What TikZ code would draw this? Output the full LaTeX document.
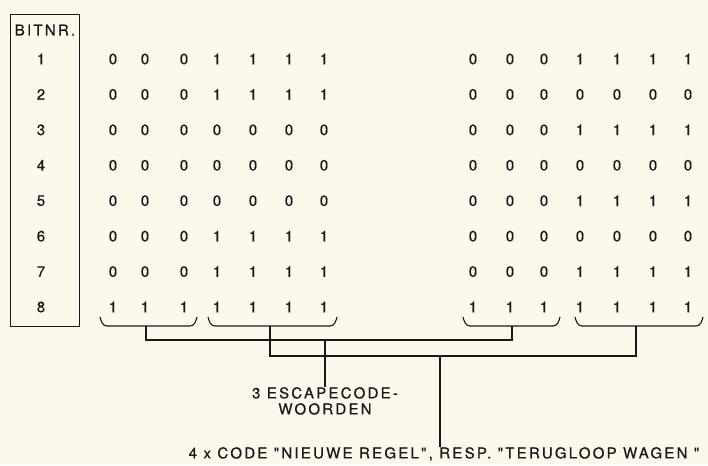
\documentclass[tikz,border=0pt]{standalone}
\usepackage{fontspec}
\setmainfont[FakeBold=0.6]{TeX Gyre Heros}
\newfontfamily\lblfont[LetterSpace=15,FakeBold=0.6]{TeX Gyre Heros}
\definecolor{paper}{RGB}{252,248,236}
\definecolor{ink}{RGB}{25,25,25}
\tikzset{
  txt/.style={font=\fontsize{15}{17}\lblfont, text=ink, inner sep=0pt},
  digit/.style={font=\fontsize{15}{17}\selectfont, text=ink, inner sep=0pt},
  wire/.style={draw=ink, line width=1.1pt},
  bitbox/.style={draw=ink, line width=1.1pt, inner sep=0pt, anchor=north west,
    minimum width=69pt, minimum height=312pt}
}
\newcommand\bitbrace[4]{% x1, x2, stem x, name
  \draw[wire] (#1,317) to[out=-75,in=180] (#1+7,326) -- (#2-7,326) to[out=0,in=-105] (#2,317);
  \coordinate (#4) at (#3,326);
}
\begin{document}
\begin{tikzpicture}[x=1pt,y=-1pt]
\fill[paper] (0,0) rectangle (708,465);
\useasboundingbox (0,0) rectangle (708,465);

\node[bitbox] (box) at (10,14) {};
\node[txt] (hdr) at (45,30) {BITNR.};

% bit numbers
\foreach \r in {1,...,8} {
  \node[digit] (n\r) at (41,{59+(\r-1)*35.43}) {\r};
}

\def\lx{{113,145,184,217,253,289,324}}
\def\rx{{473,510,544,580,617,653,688}}
\foreach \r/\bits in {1/{0,0,0,1,1,1,1},2/{0,0,0,1,1,1,1},3/{0,0,0,0,0,0,0},4/{0,0,0,0,0,0,0},5/{0,0,0,0,0,0,0},6/{0,0,0,1,1,1,1},7/{0,0,0,1,1,1,1},8/{1,1,1,1,1,1,1}} {
  \foreach \b [count=\c from 0] in \bits {
    \pgfmathsetmacro\xx{\lx[\c]}
    \node[digit] (L\r-\c) at (\xx,{59+(\r-1)*35.43}) {\b};
  }
}
\foreach \r/\bits in {1/{0,0,0,1,1,1,1},2/{0,0,0,0,0,0,0},3/{0,0,0,1,1,1,1},4/{0,0,0,0,0,0,0},5/{0,0,0,1,1,1,1},6/{0,0,0,0,0,0,0},7/{0,0,0,1,1,1,1},8/{1,1,1,1,1,1,1}} {
  \foreach \b [count=\c from 0] in \bits {
    \pgfmathsetmacro\xx{\rx[\c]}
    \node[digit] (R\r-\c) at (\xx,{59+(\r-1)*35.43}) {\b};
  }
}

% braces
\bitbrace{100}{197}{146}{b1}
\bitbrace{208}{337}{270}{b2}
\bitbrace{463}{560}{512}{b3}
\bitbrace{575}{703}{636}{b4}

% labels
\node[txt, align=center, anchor=north] (esc) at (325,387) {3 ESCAPECODE-\\[-1pt]WOORDEN};
\node[txt, anchor=north] (code) at (444,447) {4 x CODE "NIEUWE REGEL", RESP. "TERUGLOOP WAGEN "};

% connectors
\draw[wire] (b1) -- ++(0,14) -| (b3);
\draw[wire] (b2) -- ++(0,30) -| (b4);
\coordinate (escj) at (325,340);
\coordinate (codej) at (440,356);
\draw[wire] (escj) -- (esc.north -| escj);
\draw[wire] (codej) -- (code.north -| codej);
\end{tikzpicture}
\end{document}
